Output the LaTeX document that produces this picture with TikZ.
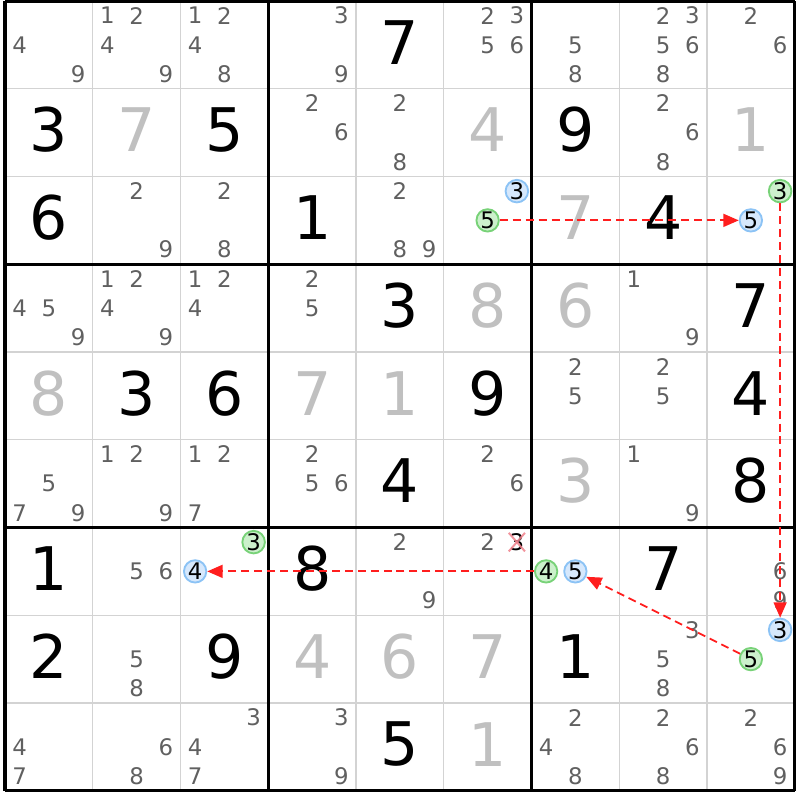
\documentclass[tikz,border=0pt]{standalone}
\usepackage{fontspec}
\setmainfont{DejaVu Sans}
\usetikzlibrary{arrows.meta}
\definecolor{candgris}{RGB}{96,96,96}
\definecolor{solgris}{RGB}{192,192,192}
\definecolor{grillegris}{RGB}{211,211,211}
\definecolor{vertfond}{RGB}{204,240,204}
\definecolor{vertbord}{RGB}{120,210,120}
\definecolor{bleufond}{RGB}{214,232,252}
\definecolor{bleubord}{RGB}{140,195,245}
\definecolor{lienrouge}{RGB}{255,30,30}
\definecolor{croixrose}{RGB}{240,130,140}
\begin{document}
\begin{tikzpicture}[x=1cm,y=1cm]
	\tikzstyle{fin}=[draw=grillegris,line width=0.45pt]
	\tikzstyle{epais}=[draw=black,line width=1pt]
	\tikzset{chiffre/.style={inner sep=0pt,font=\fontsize{19.5}{20}\selectfont},
	  donne/.style={chiffre,text=black},
	  trouve/.style={chiffre,text=solgris},
	  cand/.style={inner sep=0pt,font=\fontsize{7.4}{8}\selectfont,text=candgris},
	  marque/.style={circle,inner sep=0pt,minimum size=0.255cm,line width=0.6pt,font=\fontsize{7.4}{8}\selectfont,text=black},
	  candvert/.style={marque,draw=vertbord,fill=vertfond},
	  candbleu/.style={marque,draw=bleubord,fill=bleufond},
	  lien/.style={draw=lienrouge,line width=0.6pt,dash pattern=on 2.6pt off 1.6pt,-{Triangle[length=5pt,width=4.2pt]}},
	  croix/.style={draw=croixrose,line width=0.65pt,opacity=0.85}}
	\useasboundingbox (-0.057,-0.1054) rectangle (9.06,9.0114);
	% grille
	\foreach \i in {1,2,4,5,7,8} {
	  \draw[fin] (\i,0) -- (\i,9);
	  \draw[fin] (0,\i) -- (9,\i);
	}
	\foreach \i in {0,3,6,9} {
	  \draw[epais] (\i,0) -- (\i,9);
	  \draw[epais] (0,\i) -- (9,\i);
	}
	% chiffres donnes
	\foreach \r/\c/\v in {1/5/7,2/1/3,2/3/5,2/7/9,3/1/6,3/4/1,3/8/4,4/5/3,4/9/7,5/2/3,5/3/6,5/6/9,5/9/4,
	  6/5/4,6/9/8,7/1/1,7/4/8,7/8/7,8/1/2,8/3/9,8/7/1,9/5/5}
	  \node[donne] (d\r\c) at (\c-0.5,9.53-\r) {\v};
	% chiffres trouves
	\foreach \r/\c/\v in {2/2/7,2/6/4,2/9/1,3/7/7,4/6/8,4/7/6,5/1/8,5/4/7,5/5/1,6/7/3,8/4/4,8/5/6,8/6/7,9/6/1}
	  \node[trouve] (s\r\c) at (\c-0.5,9.53-\r) {\v};
	% candidats
	\foreach \r/\c/\ds in {1/1/{4,9},1/2/{1,2,4,9},1/3/{1,2,4,8},1/4/{3,9},1/6/{2,3,5,6},1/7/{5,8},1/8/{2,3,5,6,8},1/9/{2,6},
	  2/4/{2,6},2/5/{2,8},2/8/{2,6,8},
	  3/2/{2,9},3/3/{2,8},3/5/{2,8,9},
	  4/1/{4,5,9},4/2/{1,2,4,9},4/3/{1,2,4},4/4/{2,5},4/8/{1,9},
	  5/7/{2,5},5/8/{2,5},
	  6/1/{5,7,9},6/2/{1,2,9},6/3/{1,2,7},6/4/{2,5,6},6/6/{2,6},6/8/{1,9},
	  7/2/{5,6},7/5/{2,9},7/6/{2},7/9/{6,9},
	  8/2/{5,8},8/8/{3,5,8},
	  9/1/{4,7},9/2/{6,8},9/3/{3,4,7},9/4/{3,9},9/7/{2,4,8},9/8/{2,6,8},9/9/{2,6,9}}
	  \foreach \d in \ds
	    \node[cand] (k\r\c\d) at ({\c-0.5+(mod(\d-1,3)-1)/3},{9.5-\r-(int((\d-1)/3)-1)/3}) {\d};
	% candidats marques
	\node[candbleu] (b3r3c6) at (5.8333,6.8333) {3};
	\node[candvert] (g5r3c6) at (5.5,6.5) {5};
	\node[candvert] (g3r3c9) at (8.8333,6.8333) {3};
	\node[candbleu] (b5r3c9) at (8.5,6.5) {5};
	\node[candvert] (g3r7c3) at (2.8333,2.8333) {3};
	\node[candbleu] (b4r7c3) at (2.1667,2.5) {4};
	\node[candvert] (g4r7c7) at (6.1667,2.5) {4};
	\node[candbleu] (b5r7c7) at (6.5,2.5) {5};
	\node[candbleu] (b3r8c9) at (8.8333,1.8333) {3};
	\node[candvert] (g5r8c9) at (8.5,1.5) {5};
	% candidat elimine
	\node[cand,text=black,minimum size=0.17cm] (x3r7c6) at (5.8333,2.8333) {3};
	\draw[croix] (x3r7c6.north west) -- (x3r7c6.south east);
	\draw[croix] (x3r7c6.south west) -- (x3r7c6.north east);
	% liens
	\draw[lien] (g5r3c6) -- (b5r3c9);
	\draw[lien] (g3r3c9) -- (b3r8c9);
	\draw[lien] (g4r7c7) -- (b4r7c3);
	\draw[lien] (g5r8c9) -- (b5r7c7);
\end{tikzpicture}
\end{document}
